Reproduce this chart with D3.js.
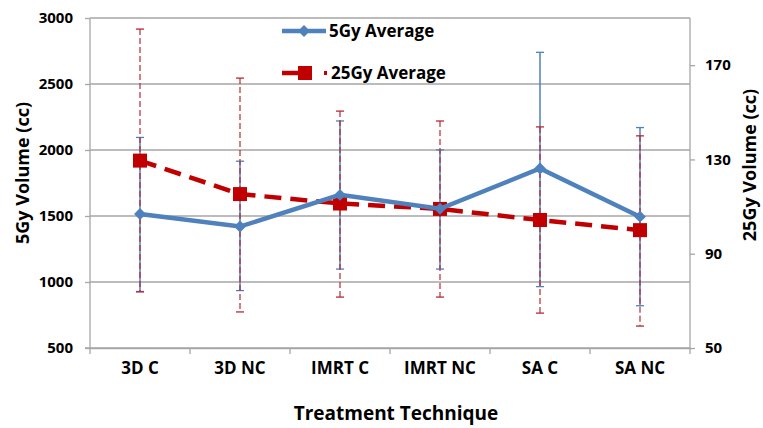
<!DOCTYPE html>
<html>
    <head>
        <script src="https://cdnjs.cloudflare.com/ajax/libs/d3/7.8.5/d3.min.js"></script>
        <title>5Gy / 25Gy Volume</title>
        <style>
            html, body {
                margin: 0;
                background: white;
            }
            svg {
                display: block;
                font-family: "Open Sans", "Lato", sans-serif;
                font-weight: 700;
            }
        </style>
    </head>
    <body>
        <svg width="763" height="428"></svg>

        <script>
            var categories = ["3D C", "3D NC", "IMRT C", "IMRT NC", "SA C", "SA NC"];

            // 5Gy, left axis
            var avg5 = [1515, 1420, 1660, 1555, 1860, 1495];
            var hi5  = [2095, 1915, 2220, 2000, 2740, 2170];
            var lo5  = [928, 935, 1098, 1098, 965, 820];

            // 25Gy, right axis
            var avg25 = [129.5, 115.3, 111.3, 109, 104.3, 100];
            var hi25  = [185.3, 164.5, 150.5, 146.3, 143.8, 140];
            var lo25  = [73.8, 65.3, 71.6, 71.6, 64.8, 59.3];

            var leftTicks = [500, 1000, 1500, 2000, 2500, 3000];
            var rightTicks = [50, 90, 130, 170];

            var blue = "#4f81bd", red = "#c00000", gray = "#a6a6a6";
            var m = {left: 90, right: 690, top: 18, bottom: 348};

            var svg = d3.select("svg");

            var x = d3.scaleBand().domain(categories).range([m.left, m.right]);
            var yL = d3.scaleLinear().domain([500, 3000]).range([m.bottom, m.top]);
            var yR = d3.scaleLinear().domain([50, 190]).range([m.bottom, m.top]);

            // grid
            svg.append("g").selectAll("line")
                .data(leftTicks)
                .enter().append("line")
                .attr("x1", m.left).attr("x2", m.right)
                .attr("y1", function(d){ return yL(d); })
                .attr("y2", function(d){ return yL(d); })
                .attr("stroke", gray).attr("stroke-width", 1.3);

            // axes
            var gl = svg.append("g").attr("transform", "translate(" + m.left + ",0)")
                .call(d3.axisLeft(yL).tickValues(leftTicks).tickFormat(d3.format("d")).tickSize(5).tickPadding(12));
            var gr = svg.append("g").attr("transform", "translate(" + m.right + ",0)")
                .call(d3.axisRight(yR).tickValues(rightTicks).tickSize(5).tickPadding(10));
            var gx = svg.append("g").attr("transform", "translate(0," + m.bottom + ")")
                .call(d3.axisBottom(x).tickSize(0).tickPadding(14));

            // category separators on x axis
            svg.append("g").selectAll("line")
                .data(categories.concat(["end"]))
                .enter().append("line")
                .attr("x1", function(d, i){ return m.left + i * x.step(); })
                .attr("x2", function(d, i){ return m.left + i * x.step(); })
                .attr("y1", m.bottom).attr("y2", m.bottom + 6)
                .attr("stroke", gray).attr("stroke-width", 1.3);

            [gl, gr, gx].forEach(function(g){
                g.selectAll(".domain, .tick line").attr("stroke", gray).attr("stroke-width", 1.3);
                g.selectAll("text").attr("fill", "#000").style("font-size", "15px")
                    .style("font-family", "'Open Sans', sans-serif").style("font-weight", 700);
            });
            gl.select(".domain").attr("d", "M-5," + m.bottom + "H0V" + m.top);
            gr.select(".domain").attr("d", "M0," + m.top + "V" + m.bottom);
            gx.selectAll("text").style("font-size", "17px");

            function cx(d, i){ return x(categories[i]) + x.bandwidth() / 2; }

            // error bars
            function errorBars(hi, lo, scale, color, dash, w){
                var g = svg.append("g");
                g.selectAll(".v").data(hi).enter().append("line")
                    .attr("x1", cx).attr("x2", cx)
                    .attr("y1", function(d){ return scale(d); })
                    .attr("y2", function(d, i){ return scale(lo[i]); })
                    .attr("stroke", color).attr("stroke-width", w)
                    .attr("stroke-dasharray", dash);
                [hi, lo].forEach(function(arr){
                    g.selectAll(null).data(arr).enter().append("line")
                        .attr("x1", function(d, i){ return cx(d, i) - 4; })
                        .attr("x2", function(d, i){ return cx(d, i) + 4; })
                        .attr("y1", function(d){ return scale(d); })
                        .attr("y2", function(d){ return scale(d); })
                        .attr("stroke", color).attr("stroke-width", 1.3);
                });
            }
            errorBars(hi5, lo5, yL, blue, null, 1.5);
            errorBars(hi25, lo25, yR, "#b52a35", "6,3", 1.2);

            // 25Gy series
            var line25 = d3.line().x(cx).y(function(d){ return yR(d); });
            svg.append("path").datum(avg25)
                .attr("d", line25).attr("fill", "none")
                .attr("stroke", red).attr("stroke-width", 4.5)
                .attr("stroke-dasharray", "17,9");
            svg.append("g").selectAll("rect").data(avg25).enter().append("rect")
                .attr("x", function(d, i){ return cx(d, i) - 7; })
                .attr("y", function(d){ return yR(d) - 7; })
                .attr("width", 14).attr("height", 14)
                .attr("fill", red);

            // 5Gy series
            var line5 = d3.line().x(cx).y(function(d){ return yL(d); });
            svg.append("path").datum(avg5)
                .attr("d", line5).attr("fill", "none")
                .attr("stroke", blue).attr("stroke-width", 4.5);
            var diamond = d3.symbol().type(d3.symbolDiamond2).size(90);
            svg.append("g").selectAll("path").data(avg5).enter().append("path")
                .attr("d", diamond)
                .attr("transform", function(d, i){ return "translate(" + cx(d, i) + "," + yL(d) + ")"; })
                .attr("fill", blue);

            // legend
            var lg = svg.append("g");
            lg.append("line").attr("x1", 282).attr("x2", 326).attr("y1", 31).attr("y2", 31)
                .attr("stroke", blue).attr("stroke-width", 4.5);
            lg.append("path").attr("d", diamond).attr("transform", "translate(304,31)").attr("fill", blue);
            lg.append("text").attr("x", 329).attr("y", 37).style("font-size", "17px").text("5Gy Average");

            lg.append("line").attr("x1", 282).attr("x2", 298).attr("y1", 73).attr("y2", 73)
                .attr("stroke", red).attr("stroke-width", 4.5);
            lg.append("rect").attr("x", 298).attr("y", 66).attr("width", 14).attr("height", 14).attr("fill", red);
            lg.append("line").attr("x1", 324).attr("x2", 327).attr("y1", 73).attr("y2", 73)
                .attr("stroke", red).attr("stroke-width", 4);
            lg.append("text").attr("x", 331).attr("y", 79).style("font-size", "17px").text("25Gy Average");

            // axis titles
            svg.append("text")
                .attr("transform", "translate(29,173) rotate(-90)")
                .attr("text-anchor", "middle").style("font-size", "18px")
                .text("5Gy Volume (cc)");
            svg.append("text")
                .attr("transform", "translate(756,165) rotate(-90)")
                .attr("text-anchor", "middle").style("font-size", "18px")
                .text("25Gy Volume (cc)");
            svg.append("text")
                .attr("x", 396).attr("y", 420)
                .attr("text-anchor", "middle").style("font-size", "19px")
                .text("Treatment Technique");
        </script>
    </body>
</html>
